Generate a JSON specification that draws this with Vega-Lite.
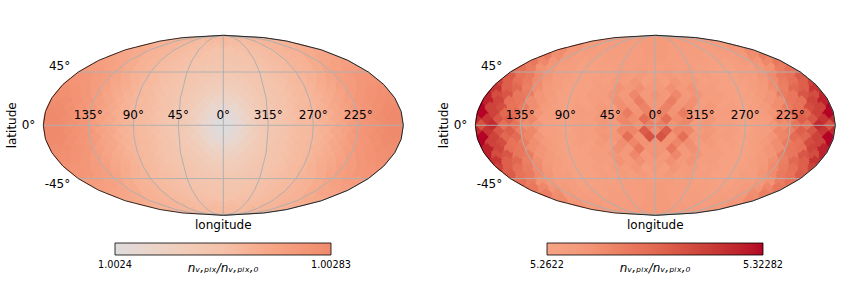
{"$schema":"https://vega.github.io/schema/vega-lite/v6.json","padding":0,"spacing":0,"background":"white","config":{"view":{"stroke":null},"font":"DejaVu Sans"},"datasets":{"pix":[
{"lon":45,"lat":84.2,"a":1.00264,"b":5.272},{"lon":-45,"lat":84.2,"a":1.00264,"b":5.272},{"lon":135,"lat":84.2,"a":1.00266,"b":5.271},{"lon":-135,"lat":84.2,"a":1.00266,"b":5.271},
{"lon":22.5,"lat":78.3,"a":1.00264,"b":5.271},{"lon":-22.5,"lat":78.3,"a":1.00264,"b":5.271},{"lon":67.5,"lat":78.3,"a":1.00264,"b":5.27},{"lon":-67.5,"lat":78.3,"a":1.00264,"b":5.27},{"lon":112.5,"lat":78.3,"a":1.00266,"b":5.27},{"lon":-112.5,"lat":78.3,"a":1.00266,"b":5.27},{"lon":157.5,"lat":78.3,"a":1.00267,"b":5.272},{"lon":-157.5,"lat":78.3,"a":1.00267,"b":5.272},
{"lon":15,"lat":72.4,"a":1.00263,"b":5.271},{"lon":-15,"lat":72.4,"a":1.00263,"b":5.271},{"lon":45,"lat":72.4,"a":1.00263,"b":5.269},{"lon":-45,"lat":72.4,"a":1.00263,"b":5.269},{"lon":75,"lat":72.4,"a":1.00264,"b":5.269},{"lon":-75,"lat":72.4,"a":1.00264,"b":5.269},{"lon":105,"lat":72.4,"a":1.00266,"b":5.269},{"lon":-105,"lat":72.4,"a":1.00266,"b":5.269},{"lon":135,"lat":72.4,"a":1.00267,"b":5.271},{"lon":-135,"lat":72.4,"a":1.00267,"b":5.271},{"lon":165,"lat":72.4,"a":1.00268,"b":5.274},{"lon":-165,"lat":72.4,"a":1.00268,"b":5.274},
{"lon":11.3,"lat":66.4,"a":1.00261,"b":5.271},{"lon":-11.3,"lat":66.4,"a":1.00261,"b":5.271},{"lon":33.8,"lat":66.4,"a":1.00262,"b":5.269},{"lon":-33.8,"lat":66.4,"a":1.00262,"b":5.269},{"lon":56.3,"lat":66.4,"a":1.00263,"b":5.268},{"lon":-56.3,"lat":66.4,"a":1.00263,"b":5.268},{"lon":78.8,"lat":66.4,"a":1.00264,"b":5.268},{"lon":-78.8,"lat":66.4,"a":1.00264,"b":5.268},{"lon":101.3,"lat":66.4,"a":1.00266,"b":5.268},{"lon":-101.3,"lat":66.4,"a":1.00266,"b":5.268},{"lon":123.8,"lat":66.4,"a":1.00267,"b":5.27},{"lon":-123.8,"lat":66.4,"a":1.00267,"b":5.27},{"lon":146.3,"lat":66.4,"a":1.00269,"b":5.273},{"lon":-146.3,"lat":66.4,"a":1.00269,"b":5.273},{"lon":168.8,"lat":66.4,"a":1.0027,"b":5.278},{"lon":-168.8,"lat":66.4,"a":1.0027,"b":5.278},
{"lon":9,"lat":60.4,"a":1.0026,"b":5.271},{"lon":-9,"lat":60.4,"a":1.0026,"b":5.271},{"lon":27,"lat":60.4,"a":1.00261,"b":5.269},{"lon":-27,"lat":60.4,"a":1.00261,"b":5.269},{"lon":45,"lat":60.4,"a":1.00262,"b":5.268},{"lon":-45,"lat":60.4,"a":1.00262,"b":5.268},{"lon":63,"lat":60.4,"a":1.00263,"b":5.268},{"lon":-63,"lat":60.4,"a":1.00263,"b":5.268},{"lon":81,"lat":60.4,"a":1.00264,"b":5.266},{"lon":-81,"lat":60.4,"a":1.00264,"b":5.266},{"lon":99,"lat":60.4,"a":1.00266,"b":5.268},{"lon":-99,"lat":60.4,"a":1.00266,"b":5.268},{"lon":117,"lat":60.4,"a":1.00267,"b":5.269},{"lon":-117,"lat":60.4,"a":1.00267,"b":5.269},{"lon":135,"lat":60.4,"a":1.00269,"b":5.272},{"lon":-135,"lat":60.4,"a":1.00269,"b":5.272},{"lon":153,"lat":60.4,"a":1.00271,"b":5.277},{"lon":-153,"lat":60.4,"a":1.00271,"b":5.277},{"lon":171,"lat":60.4,"a":1.00272,"b":5.283},{"lon":-171,"lat":60.4,"a":1.00272,"b":5.283},
{"lon":7.5,"lat":54.3,"a":1.00259,"b":5.27},{"lon":-7.5,"lat":54.3,"a":1.00259,"b":5.27},{"lon":22.5,"lat":54.3,"a":1.0026,"b":5.269},{"lon":-22.5,"lat":54.3,"a":1.0026,"b":5.269},{"lon":37.5,"lat":54.3,"a":1.00261,"b":5.269},{"lon":-37.5,"lat":54.3,"a":1.00261,"b":5.269},{"lon":52.5,"lat":54.3,"a":1.00262,"b":5.267},{"lon":-52.5,"lat":54.3,"a":1.00262,"b":5.267},{"lon":67.5,"lat":54.3,"a":1.00263,"b":5.267},{"lon":-67.5,"lat":54.3,"a":1.00263,"b":5.267},{"lon":82.5,"lat":54.3,"a":1.00264,"b":5.266},{"lon":-82.5,"lat":54.3,"a":1.00264,"b":5.266},{"lon":97.5,"lat":54.3,"a":1.00266,"b":5.266},{"lon":-97.5,"lat":54.3,"a":1.00266,"b":5.266},{"lon":112.5,"lat":54.3,"a":1.00267,"b":5.268},{"lon":-112.5,"lat":54.3,"a":1.00267,"b":5.268},{"lon":127.5,"lat":54.3,"a":1.00269,"b":5.271},{"lon":-127.5,"lat":54.3,"a":1.00269,"b":5.271},{"lon":142.5,"lat":54.3,"a":1.00271,"b":5.274},{"lon":-142.5,"lat":54.3,"a":1.00271,"b":5.274},{"lon":157.5,"lat":54.3,"a":1.00273,"b":5.279},{"lon":-157.5,"lat":54.3,"a":1.00273,"b":5.279},{"lon":172.5,"lat":54.3,"a":1.00274,"b":5.286},{"lon":-172.5,"lat":54.3,"a":1.00274,"b":5.286},
{"lon":6.4,"lat":48.1,"a":1.00258,"b":5.269},{"lon":-6.4,"lat":48.1,"a":1.00258,"b":5.269},{"lon":19.3,"lat":48.1,"a":1.00258,"b":5.27},{"lon":-19.3,"lat":48.1,"a":1.00258,"b":5.27},{"lon":32.1,"lat":48.1,"a":1.00259,"b":5.268},{"lon":-32.1,"lat":48.1,"a":1.00259,"b":5.268},{"lon":45,"lat":48.1,"a":1.0026,"b":5.269},{"lon":-45,"lat":48.1,"a":1.0026,"b":5.269},{"lon":57.9,"lat":48.1,"a":1.00262,"b":5.266},{"lon":-57.9,"lat":48.1,"a":1.00262,"b":5.266},{"lon":70.7,"lat":48.1,"a":1.00263,"b":5.266},{"lon":-70.7,"lat":48.1,"a":1.00263,"b":5.266},{"lon":83.6,"lat":48.1,"a":1.00264,"b":5.265},{"lon":-83.6,"lat":48.1,"a":1.00264,"b":5.265},{"lon":96.4,"lat":48.1,"a":1.00266,"b":5.265},{"lon":-96.4,"lat":48.1,"a":1.00266,"b":5.265},{"lon":109.3,"lat":48.1,"a":1.00267,"b":5.268},{"lon":-109.3,"lat":48.1,"a":1.00267,"b":5.268},{"lon":122.1,"lat":48.1,"a":1.00269,"b":5.268},{"lon":-122.1,"lat":48.1,"a":1.00269,"b":5.268},{"lon":135,"lat":48.1,"a":1.00272,"b":5.273},{"lon":-135,"lat":48.1,"a":1.00272,"b":5.273},{"lon":147.9,"lat":48.1,"a":1.00273,"b":5.275},{"lon":-147.9,"lat":48.1,"a":1.00273,"b":5.275},{"lon":160.7,"lat":48.1,"a":1.00275,"b":5.283},{"lon":-160.7,"lat":48.1,"a":1.00275,"b":5.283},{"lon":173.6,"lat":48.1,"a":1.00275,"b":5.289},{"lon":-173.6,"lat":48.1,"a":1.00275,"b":5.289},
{"lon":5.6,"lat":41.8,"a":1.00256,"b":5.269},{"lon":-5.6,"lat":41.8,"a":1.00256,"b":5.269},{"lon":16.9,"lat":41.8,"a":1.00257,"b":5.272},{"lon":-16.9,"lat":41.8,"a":1.00257,"b":5.272},{"lon":28.1,"lat":41.8,"a":1.00258,"b":5.268},{"lon":-28.1,"lat":41.8,"a":1.00258,"b":5.268},{"lon":39.4,"lat":41.8,"a":1.00259,"b":5.271},{"lon":-39.4,"lat":41.8,"a":1.00259,"b":5.271},{"lon":50.6,"lat":41.8,"a":1.0026,"b":5.267},{"lon":-50.6,"lat":41.8,"a":1.0026,"b":5.267},{"lon":61.9,"lat":41.8,"a":1.00262,"b":5.268},{"lon":-61.9,"lat":41.8,"a":1.00262,"b":5.268},{"lon":73.1,"lat":41.8,"a":1.00263,"b":5.265},{"lon":-73.1,"lat":41.8,"a":1.00263,"b":5.265},{"lon":84.4,"lat":41.8,"a":1.00264,"b":5.265},{"lon":-84.4,"lat":41.8,"a":1.00264,"b":5.265},{"lon":95.6,"lat":41.8,"a":1.00266,"b":5.265},{"lon":-95.6,"lat":41.8,"a":1.00266,"b":5.265},{"lon":106.9,"lat":41.8,"a":1.00267,"b":5.268},{"lon":-106.9,"lat":41.8,"a":1.00267,"b":5.268},{"lon":118.1,"lat":41.8,"a":1.00269,"b":5.269},{"lon":-118.1,"lat":41.8,"a":1.00269,"b":5.269},{"lon":129.4,"lat":41.8,"a":1.00272,"b":5.274},{"lon":-129.4,"lat":41.8,"a":1.00272,"b":5.274},{"lon":140.6,"lat":41.8,"a":1.00274,"b":5.278},{"lon":-140.6,"lat":41.8,"a":1.00274,"b":5.278},{"lon":151.9,"lat":41.8,"a":1.00275,"b":5.285},{"lon":-151.9,"lat":41.8,"a":1.00275,"b":5.285},{"lon":163.1,"lat":41.8,"a":1.00277,"b":5.288},{"lon":-163.1,"lat":41.8,"a":1.00277,"b":5.288},{"lon":174.4,"lat":41.8,"a":1.00278,"b":5.297},{"lon":-174.4,"lat":41.8,"a":1.00278,"b":5.297},
{"lon":0,"lat":35.7,"a":1.00255,"b":5.272},{"lon":11.3,"lat":35.7,"a":1.00255,"b":5.267},{"lon":-11.3,"lat":35.7,"a":1.00255,"b":5.267},{"lon":22.5,"lat":35.7,"a":1.00256,"b":5.274},{"lon":-22.5,"lat":35.7,"a":1.00256,"b":5.274},{"lon":33.8,"lat":35.7,"a":1.00258,"b":5.27},{"lon":-33.8,"lat":35.7,"a":1.00258,"b":5.27},{"lon":45,"lat":35.7,"a":1.00259,"b":5.271},{"lon":-45,"lat":35.7,"a":1.00259,"b":5.271},{"lon":56.3,"lat":35.7,"a":1.00261,"b":5.266},{"lon":-56.3,"lat":35.7,"a":1.00261,"b":5.266},{"lon":67.5,"lat":35.7,"a":1.00262,"b":5.267},{"lon":-67.5,"lat":35.7,"a":1.00262,"b":5.267},{"lon":78.8,"lat":35.7,"a":1.00264,"b":5.264},{"lon":-78.8,"lat":35.7,"a":1.00264,"b":5.264},{"lon":90,"lat":35.7,"a":1.00265,"b":5.265},{"lon":-90,"lat":35.7,"a":1.00265,"b":5.265},{"lon":101.3,"lat":35.7,"a":1.00267,"b":5.266},{"lon":-101.3,"lat":35.7,"a":1.00267,"b":5.266},{"lon":112.5,"lat":35.7,"a":1.00269,"b":5.269},{"lon":-112.5,"lat":35.7,"a":1.00269,"b":5.269},{"lon":123.8,"lat":35.7,"a":1.00271,"b":5.273},{"lon":-123.8,"lat":35.7,"a":1.00271,"b":5.273},{"lon":135,"lat":35.7,"a":1.00274,"b":5.278},{"lon":-135,"lat":35.7,"a":1.00274,"b":5.278},{"lon":146.3,"lat":35.7,"a":1.00275,"b":5.284},{"lon":-146.3,"lat":35.7,"a":1.00275,"b":5.284},{"lon":157.5,"lat":35.7,"a":1.00277,"b":5.289},{"lon":-157.5,"lat":35.7,"a":1.00277,"b":5.289},{"lon":168.8,"lat":35.7,"a":1.00278,"b":5.296},{"lon":-168.8,"lat":35.7,"a":1.00278,"b":5.296},{"lon":180,"lat":35.7,"a":1.00279,"b":5.306},{"lon":-180,"lat":35.7,"a":1.00279,"b":5.306},
{"lon":5.6,"lat":30,"a":1.00253,"b":5.272},{"lon":-5.6,"lat":30,"a":1.00253,"b":5.272},{"lon":16.9,"lat":30,"a":1.00254,"b":5.276},{"lon":-16.9,"lat":30,"a":1.00254,"b":5.276},{"lon":28.1,"lat":30,"a":1.00256,"b":5.272},{"lon":-28.1,"lat":30,"a":1.00256,"b":5.272},{"lon":39.4,"lat":30,"a":1.00258,"b":5.275},{"lon":-39.4,"lat":30,"a":1.00258,"b":5.275},{"lon":50.6,"lat":30,"a":1.00259,"b":5.268},{"lon":-50.6,"lat":30,"a":1.00259,"b":5.268},{"lon":61.9,"lat":30,"a":1.00261,"b":5.268},{"lon":-61.9,"lat":30,"a":1.00261,"b":5.268},{"lon":73.1,"lat":30,"a":1.00263,"b":5.265},{"lon":-73.1,"lat":30,"a":1.00263,"b":5.265},{"lon":84.4,"lat":30,"a":1.00264,"b":5.265},{"lon":-84.4,"lat":30,"a":1.00264,"b":5.265},{"lon":95.6,"lat":30,"a":1.00266,"b":5.264},{"lon":-95.6,"lat":30,"a":1.00266,"b":5.264},{"lon":106.9,"lat":30,"a":1.00268,"b":5.268},{"lon":-106.9,"lat":30,"a":1.00268,"b":5.268},{"lon":118.1,"lat":30,"a":1.0027,"b":5.271},{"lon":-118.1,"lat":30,"a":1.0027,"b":5.271},{"lon":129.4,"lat":30,"a":1.00273,"b":5.277},{"lon":-129.4,"lat":30,"a":1.00273,"b":5.277},{"lon":140.6,"lat":30,"a":1.00275,"b":5.282},{"lon":-140.6,"lat":30,"a":1.00275,"b":5.282},{"lon":151.9,"lat":30,"a":1.00277,"b":5.293},{"lon":-151.9,"lat":30,"a":1.00277,"b":5.293},{"lon":163.1,"lat":30,"a":1.00279,"b":5.296},{"lon":-163.1,"lat":30,"a":1.00279,"b":5.296},{"lon":174.4,"lat":30,"a":1.0028,"b":5.311},{"lon":-174.4,"lat":30,"a":1.0028,"b":5.311},
{"lon":0,"lat":24.6,"a":1.0025,"b":5.275},{"lon":11.3,"lat":24.6,"a":1.00251,"b":5.272},{"lon":-11.3,"lat":24.6,"a":1.00251,"b":5.272},{"lon":22.5,"lat":24.6,"a":1.00254,"b":5.279},{"lon":-22.5,"lat":24.6,"a":1.00254,"b":5.279},{"lon":33.8,"lat":24.6,"a":1.00256,"b":5.272},{"lon":-33.8,"lat":24.6,"a":1.00256,"b":5.272},{"lon":45,"lat":24.6,"a":1.00258,"b":5.274},{"lon":-45,"lat":24.6,"a":1.00258,"b":5.274},{"lon":56.3,"lat":24.6,"a":1.0026,"b":5.268},{"lon":-56.3,"lat":24.6,"a":1.0026,"b":5.268},{"lon":67.5,"lat":24.6,"a":1.00262,"b":5.268},{"lon":-67.5,"lat":24.6,"a":1.00262,"b":5.268},{"lon":78.8,"lat":24.6,"a":1.00264,"b":5.264},{"lon":-78.8,"lat":24.6,"a":1.00264,"b":5.264},{"lon":90,"lat":24.6,"a":1.00265,"b":5.264},{"lon":-90,"lat":24.6,"a":1.00265,"b":5.264},{"lon":101.3,"lat":24.6,"a":1.00267,"b":5.266},{"lon":-101.3,"lat":24.6,"a":1.00267,"b":5.266},{"lon":112.5,"lat":24.6,"a":1.00269,"b":5.271},{"lon":-112.5,"lat":24.6,"a":1.00269,"b":5.271},{"lon":123.8,"lat":24.6,"a":1.00272,"b":5.274},{"lon":-123.8,"lat":24.6,"a":1.00272,"b":5.274},{"lon":135,"lat":24.6,"a":1.00275,"b":5.284},{"lon":-135,"lat":24.6,"a":1.00275,"b":5.284},{"lon":146.3,"lat":24.6,"a":1.00277,"b":5.286},{"lon":-146.3,"lat":24.6,"a":1.00277,"b":5.286},{"lon":157.5,"lat":24.6,"a":1.00279,"b":5.299},{"lon":-157.5,"lat":24.6,"a":1.00279,"b":5.299},{"lon":168.8,"lat":24.6,"a":1.0028,"b":5.302},{"lon":-168.8,"lat":24.6,"a":1.0028,"b":5.302},{"lon":180,"lat":24.6,"a":1.00281,"b":5.317},{"lon":-180,"lat":24.6,"a":1.00281,"b":5.317},
{"lon":5.6,"lat":19.5,"a":1.00248,"b":5.273},{"lon":-5.6,"lat":19.5,"a":1.00248,"b":5.273},{"lon":16.9,"lat":19.5,"a":1.0025,"b":5.283},{"lon":-16.9,"lat":19.5,"a":1.0025,"b":5.283},{"lon":28.1,"lat":19.5,"a":1.00254,"b":5.273},{"lon":-28.1,"lat":19.5,"a":1.00254,"b":5.273},{"lon":39.4,"lat":19.5,"a":1.00257,"b":5.276},{"lon":-39.4,"lat":19.5,"a":1.00257,"b":5.276},{"lon":50.6,"lat":19.5,"a":1.00259,"b":5.269},{"lon":-50.6,"lat":19.5,"a":1.00259,"b":5.269},{"lon":61.9,"lat":19.5,"a":1.00261,"b":5.269},{"lon":-61.9,"lat":19.5,"a":1.00261,"b":5.269},{"lon":73.1,"lat":19.5,"a":1.00263,"b":5.265},{"lon":-73.1,"lat":19.5,"a":1.00263,"b":5.265},{"lon":84.4,"lat":19.5,"a":1.00264,"b":5.265},{"lon":-84.4,"lat":19.5,"a":1.00264,"b":5.265},{"lon":95.6,"lat":19.5,"a":1.00266,"b":5.264},{"lon":-95.6,"lat":19.5,"a":1.00266,"b":5.264},{"lon":106.9,"lat":19.5,"a":1.00268,"b":5.268},{"lon":-106.9,"lat":19.5,"a":1.00268,"b":5.268},{"lon":118.1,"lat":19.5,"a":1.00271,"b":5.274},{"lon":-118.1,"lat":19.5,"a":1.00271,"b":5.274},{"lon":129.4,"lat":19.5,"a":1.00274,"b":5.277},{"lon":-129.4,"lat":19.5,"a":1.00274,"b":5.277},{"lon":140.6,"lat":19.5,"a":1.00277,"b":5.286},{"lon":-140.6,"lat":19.5,"a":1.00277,"b":5.286},{"lon":151.9,"lat":19.5,"a":1.00279,"b":5.289},{"lon":-151.9,"lat":19.5,"a":1.00279,"b":5.289},{"lon":163.1,"lat":19.5,"a":1.00281,"b":5.305},{"lon":-163.1,"lat":19.5,"a":1.00281,"b":5.305},{"lon":174.4,"lat":19.5,"a":1.00281,"b":5.317},{"lon":-174.4,"lat":19.5,"a":1.00281,"b":5.317},
{"lon":0,"lat":14.5,"a":1.00244,"b":5.273},{"lon":11.3,"lat":14.5,"a":1.00246,"b":5.281},{"lon":-11.3,"lat":14.5,"a":1.00246,"b":5.281},{"lon":22.5,"lat":14.5,"a":1.00251,"b":5.274},{"lon":-22.5,"lat":14.5,"a":1.00251,"b":5.274},{"lon":33.8,"lat":14.5,"a":1.00255,"b":5.277},{"lon":-33.8,"lat":14.5,"a":1.00255,"b":5.277},{"lon":45,"lat":14.5,"a":1.00257,"b":5.27},{"lon":-45,"lat":14.5,"a":1.00257,"b":5.27},{"lon":56.3,"lat":14.5,"a":1.0026,"b":5.272},{"lon":-56.3,"lat":14.5,"a":1.0026,"b":5.272},{"lon":67.5,"lat":14.5,"a":1.00262,"b":5.266},{"lon":-67.5,"lat":14.5,"a":1.00262,"b":5.266},{"lon":78.8,"lat":14.5,"a":1.00264,"b":5.267},{"lon":-78.8,"lat":14.5,"a":1.00264,"b":5.267},{"lon":90,"lat":14.5,"a":1.00265,"b":5.263},{"lon":-90,"lat":14.5,"a":1.00265,"b":5.263},{"lon":101.3,"lat":14.5,"a":1.00267,"b":5.267},{"lon":-101.3,"lat":14.5,"a":1.00267,"b":5.267},{"lon":112.5,"lat":14.5,"a":1.0027,"b":5.271},{"lon":-112.5,"lat":14.5,"a":1.0027,"b":5.271},{"lon":123.8,"lat":14.5,"a":1.00273,"b":5.277},{"lon":-123.8,"lat":14.5,"a":1.00273,"b":5.277},{"lon":135,"lat":14.5,"a":1.00276,"b":5.284},{"lon":-135,"lat":14.5,"a":1.00276,"b":5.284},{"lon":146.3,"lat":14.5,"a":1.00278,"b":5.288},{"lon":-146.3,"lat":14.5,"a":1.00278,"b":5.288},{"lon":157.5,"lat":14.5,"a":1.0028,"b":5.302},{"lon":-157.5,"lat":14.5,"a":1.0028,"b":5.302},{"lon":168.8,"lat":14.5,"a":1.00282,"b":5.306},{"lon":-168.8,"lat":14.5,"a":1.00282,"b":5.306},{"lon":180,"lat":14.5,"a":1.00282,"b":5.323},{"lon":-180,"lat":14.5,"a":1.00282,"b":5.323},
{"lon":5.6,"lat":9.6,"a":1.00243,"b":5.281},{"lon":-5.6,"lat":9.6,"a":1.00243,"b":5.281},{"lon":16.9,"lat":9.6,"a":1.00247,"b":5.275},{"lon":-16.9,"lat":9.6,"a":1.00247,"b":5.275},{"lon":28.1,"lat":9.6,"a":1.00252,"b":5.284},{"lon":-28.1,"lat":9.6,"a":1.00252,"b":5.284},{"lon":39.4,"lat":9.6,"a":1.00256,"b":5.272},{"lon":-39.4,"lat":9.6,"a":1.00256,"b":5.272},{"lon":50.6,"lat":9.6,"a":1.00258,"b":5.274},{"lon":-50.6,"lat":9.6,"a":1.00258,"b":5.274},{"lon":61.9,"lat":9.6,"a":1.00261,"b":5.268},{"lon":-61.9,"lat":9.6,"a":1.00261,"b":5.268},{"lon":73.1,"lat":9.6,"a":1.00263,"b":5.269},{"lon":-73.1,"lat":9.6,"a":1.00263,"b":5.269},{"lon":84.4,"lat":9.6,"a":1.00264,"b":5.264},{"lon":-84.4,"lat":9.6,"a":1.00264,"b":5.264},{"lon":95.6,"lat":9.6,"a":1.00266,"b":5.266},{"lon":-95.6,"lat":9.6,"a":1.00266,"b":5.266},{"lon":106.9,"lat":9.6,"a":1.00268,"b":5.268},{"lon":-106.9,"lat":9.6,"a":1.00268,"b":5.268},{"lon":118.1,"lat":9.6,"a":1.00271,"b":5.274},{"lon":-118.1,"lat":9.6,"a":1.00271,"b":5.274},{"lon":129.4,"lat":9.6,"a":1.00275,"b":5.28},{"lon":-129.4,"lat":9.6,"a":1.00275,"b":5.28},{"lon":140.6,"lat":9.6,"a":1.00278,"b":5.291},{"lon":-140.6,"lat":9.6,"a":1.00278,"b":5.291},{"lon":151.9,"lat":9.6,"a":1.0028,"b":5.293},{"lon":-151.9,"lat":9.6,"a":1.0028,"b":5.293},{"lon":163.1,"lat":9.6,"a":1.00282,"b":5.306},{"lon":-163.1,"lat":9.6,"a":1.00282,"b":5.306},{"lon":174.4,"lat":9.6,"a":1.00283,"b":5.323},{"lon":-174.4,"lat":9.6,"a":1.00283,"b":5.323},
{"lon":0,"lat":4.8,"a":1.0024,"b":5.277},{"lon":11.3,"lat":4.8,"a":1.00243,"b":5.29},{"lon":-11.3,"lat":4.8,"a":1.00243,"b":5.29},{"lon":22.5,"lat":4.8,"a":1.00249,"b":5.277},{"lon":-22.5,"lat":4.8,"a":1.00249,"b":5.277},{"lon":33.8,"lat":4.8,"a":1.00254,"b":5.279},{"lon":-33.8,"lat":4.8,"a":1.00254,"b":5.279},{"lon":45,"lat":4.8,"a":1.00257,"b":5.271},{"lon":-45,"lat":4.8,"a":1.00257,"b":5.271},{"lon":56.3,"lat":4.8,"a":1.00259,"b":5.273},{"lon":-56.3,"lat":4.8,"a":1.00259,"b":5.273},{"lon":67.5,"lat":4.8,"a":1.00262,"b":5.267},{"lon":-67.5,"lat":4.8,"a":1.00262,"b":5.267},{"lon":78.8,"lat":4.8,"a":1.00264,"b":5.267},{"lon":-78.8,"lat":4.8,"a":1.00264,"b":5.267},{"lon":90,"lat":4.8,"a":1.00265,"b":5.263},{"lon":-90,"lat":4.8,"a":1.00265,"b":5.263},{"lon":101.3,"lat":4.8,"a":1.00267,"b":5.267},{"lon":-101.3,"lat":4.8,"a":1.00267,"b":5.267},{"lon":112.5,"lat":4.8,"a":1.0027,"b":5.269},{"lon":-112.5,"lat":4.8,"a":1.0027,"b":5.269},{"lon":123.8,"lat":4.8,"a":1.00273,"b":5.279},{"lon":-123.8,"lat":4.8,"a":1.00273,"b":5.279},{"lon":135,"lat":4.8,"a":1.00277,"b":5.282},{"lon":-135,"lat":4.8,"a":1.00277,"b":5.282},{"lon":146.3,"lat":4.8,"a":1.00279,"b":5.296},{"lon":-146.3,"lat":4.8,"a":1.00279,"b":5.296},{"lon":157.5,"lat":4.8,"a":1.00281,"b":5.299},{"lon":-157.5,"lat":4.8,"a":1.00281,"b":5.299},{"lon":168.8,"lat":4.8,"a":1.00283,"b":5.311},{"lon":-168.8,"lat":4.8,"a":1.00283,"b":5.311},{"lon":180,"lat":4.8,"a":1.00283,"b":5.314},{"lon":-180,"lat":4.8,"a":1.00283,"b":5.314},
{"lon":5.6,"lat":0,"a":1.0024,"b":5.282},{"lon":-5.6,"lat":0,"a":1.0024,"b":5.282},{"lon":16.9,"lat":0,"a":1.00245,"b":5.275},{"lon":-16.9,"lat":0,"a":1.00245,"b":5.275},{"lon":28.1,"lat":0,"a":1.00251,"b":5.28},{"lon":-28.1,"lat":0,"a":1.00251,"b":5.28},{"lon":39.4,"lat":0,"a":1.00256,"b":5.271},{"lon":-39.4,"lat":0,"a":1.00256,"b":5.271},{"lon":50.6,"lat":0,"a":1.00258,"b":5.274},{"lon":-50.6,"lat":0,"a":1.00258,"b":5.274},{"lon":61.9,"lat":0,"a":1.0026,"b":5.268},{"lon":-61.9,"lat":0,"a":1.0026,"b":5.268},{"lon":73.1,"lat":0,"a":1.00263,"b":5.268},{"lon":-73.1,"lat":0,"a":1.00263,"b":5.268},{"lon":84.4,"lat":0,"a":1.00264,"b":5.264},{"lon":-84.4,"lat":0,"a":1.00264,"b":5.264},{"lon":95.6,"lat":0,"a":1.00266,"b":5.265},{"lon":-95.6,"lat":0,"a":1.00266,"b":5.265},{"lon":106.9,"lat":0,"a":1.00268,"b":5.267},{"lon":-106.9,"lat":0,"a":1.00268,"b":5.267},{"lon":118.1,"lat":0,"a":1.00271,"b":5.274},{"lon":-118.1,"lat":0,"a":1.00271,"b":5.274},{"lon":129.4,"lat":0,"a":1.00275,"b":5.277},{"lon":-129.4,"lat":0,"a":1.00275,"b":5.277},{"lon":140.6,"lat":0,"a":1.00278,"b":5.288},{"lon":-140.6,"lat":0,"a":1.00278,"b":5.288},{"lon":151.9,"lat":0,"a":1.0028,"b":5.289},{"lon":-151.9,"lat":0,"a":1.0028,"b":5.289},{"lon":163.1,"lat":0,"a":1.00282,"b":5.314},{"lon":-163.1,"lat":0,"a":1.00282,"b":5.314},{"lon":174.4,"lat":0,"a":1.00283,"b":5.3},{"lon":-174.4,"lat":0,"a":1.00283,"b":5.3},
{"lon":0,"lat":-4.8,"a":1.0024,"b":5.277},{"lon":11.3,"lat":-4.8,"a":1.00243,"b":5.297},{"lon":-11.3,"lat":-4.8,"a":1.00243,"b":5.297},{"lon":22.5,"lat":-4.8,"a":1.00249,"b":5.28},{"lon":-22.5,"lat":-4.8,"a":1.00249,"b":5.28},{"lon":33.8,"lat":-4.8,"a":1.00254,"b":5.279},{"lon":-33.8,"lat":-4.8,"a":1.00254,"b":5.279},{"lon":45,"lat":-4.8,"a":1.00257,"b":5.271},{"lon":-45,"lat":-4.8,"a":1.00257,"b":5.271},{"lon":56.3,"lat":-4.8,"a":1.00259,"b":5.273},{"lon":-56.3,"lat":-4.8,"a":1.00259,"b":5.273},{"lon":67.5,"lat":-4.8,"a":1.00262,"b":5.267},{"lon":-67.5,"lat":-4.8,"a":1.00262,"b":5.267},{"lon":78.8,"lat":-4.8,"a":1.00264,"b":5.267},{"lon":-78.8,"lat":-4.8,"a":1.00264,"b":5.267},{"lon":90,"lat":-4.8,"a":1.00265,"b":5.263},{"lon":-90,"lat":-4.8,"a":1.00265,"b":5.263},{"lon":101.3,"lat":-4.8,"a":1.00267,"b":5.267},{"lon":-101.3,"lat":-4.8,"a":1.00267,"b":5.267},{"lon":112.5,"lat":-4.8,"a":1.0027,"b":5.269},{"lon":-112.5,"lat":-4.8,"a":1.0027,"b":5.269},{"lon":123.8,"lat":-4.8,"a":1.00273,"b":5.279},{"lon":-123.8,"lat":-4.8,"a":1.00273,"b":5.279},{"lon":135,"lat":-4.8,"a":1.00277,"b":5.282},{"lon":-135,"lat":-4.8,"a":1.00277,"b":5.282},{"lon":146.3,"lat":-4.8,"a":1.00279,"b":5.296},{"lon":-146.3,"lat":-4.8,"a":1.00279,"b":5.296},{"lon":157.5,"lat":-4.8,"a":1.00281,"b":5.299},{"lon":-157.5,"lat":-4.8,"a":1.00281,"b":5.299},{"lon":168.8,"lat":-4.8,"a":1.00283,"b":5.311},{"lon":-168.8,"lat":-4.8,"a":1.00283,"b":5.311},{"lon":180,"lat":-4.8,"a":1.00283,"b":5.314},{"lon":-180,"lat":-4.8,"a":1.00283,"b":5.314},
{"lon":5.6,"lat":-9.6,"a":1.00243,"b":5.3},{"lon":-5.6,"lat":-9.6,"a":1.00243,"b":5.3},{"lon":16.9,"lat":-9.6,"a":1.00247,"b":5.275},{"lon":-16.9,"lat":-9.6,"a":1.00247,"b":5.275},{"lon":28.1,"lat":-9.6,"a":1.00252,"b":5.29},{"lon":-28.1,"lat":-9.6,"a":1.00252,"b":5.29},{"lon":39.4,"lat":-9.6,"a":1.00256,"b":5.273},{"lon":-39.4,"lat":-9.6,"a":1.00256,"b":5.273},{"lon":50.6,"lat":-9.6,"a":1.00258,"b":5.274},{"lon":-50.6,"lat":-9.6,"a":1.00258,"b":5.274},{"lon":61.9,"lat":-9.6,"a":1.00261,"b":5.268},{"lon":-61.9,"lat":-9.6,"a":1.00261,"b":5.268},{"lon":73.1,"lat":-9.6,"a":1.00263,"b":5.269},{"lon":-73.1,"lat":-9.6,"a":1.00263,"b":5.269},{"lon":84.4,"lat":-9.6,"a":1.00264,"b":5.264},{"lon":-84.4,"lat":-9.6,"a":1.00264,"b":5.264},{"lon":95.6,"lat":-9.6,"a":1.00266,"b":5.266},{"lon":-95.6,"lat":-9.6,"a":1.00266,"b":5.266},{"lon":106.9,"lat":-9.6,"a":1.00268,"b":5.268},{"lon":-106.9,"lat":-9.6,"a":1.00268,"b":5.268},{"lon":118.1,"lat":-9.6,"a":1.00271,"b":5.274},{"lon":-118.1,"lat":-9.6,"a":1.00271,"b":5.274},{"lon":129.4,"lat":-9.6,"a":1.00275,"b":5.28},{"lon":-129.4,"lat":-9.6,"a":1.00275,"b":5.28},{"lon":140.6,"lat":-9.6,"a":1.00278,"b":5.291},{"lon":-140.6,"lat":-9.6,"a":1.00278,"b":5.291},{"lon":151.9,"lat":-9.6,"a":1.0028,"b":5.293},{"lon":-151.9,"lat":-9.6,"a":1.0028,"b":5.293},{"lon":163.1,"lat":-9.6,"a":1.00282,"b":5.306},{"lon":-163.1,"lat":-9.6,"a":1.00282,"b":5.306},{"lon":174.4,"lat":-9.6,"a":1.00283,"b":5.323},{"lon":-174.4,"lat":-9.6,"a":1.00283,"b":5.323},
{"lon":0,"lat":-14.5,"a":1.00244,"b":5.275},{"lon":11.3,"lat":-14.5,"a":1.00246,"b":5.275},{"lon":-11.3,"lat":-14.5,"a":1.00246,"b":5.275},{"lon":22.5,"lat":-14.5,"a":1.00251,"b":5.28},{"lon":-22.5,"lat":-14.5,"a":1.00251,"b":5.28},{"lon":33.8,"lat":-14.5,"a":1.00255,"b":5.277},{"lon":-33.8,"lat":-14.5,"a":1.00255,"b":5.277},{"lon":45,"lat":-14.5,"a":1.00257,"b":5.27},{"lon":-45,"lat":-14.5,"a":1.00257,"b":5.27},{"lon":56.3,"lat":-14.5,"a":1.0026,"b":5.272},{"lon":-56.3,"lat":-14.5,"a":1.0026,"b":5.272},{"lon":67.5,"lat":-14.5,"a":1.00262,"b":5.266},{"lon":-67.5,"lat":-14.5,"a":1.00262,"b":5.266},{"lon":78.8,"lat":-14.5,"a":1.00264,"b":5.267},{"lon":-78.8,"lat":-14.5,"a":1.00264,"b":5.267},{"lon":90,"lat":-14.5,"a":1.00265,"b":5.263},{"lon":-90,"lat":-14.5,"a":1.00265,"b":5.263},{"lon":101.3,"lat":-14.5,"a":1.00267,"b":5.267},{"lon":-101.3,"lat":-14.5,"a":1.00267,"b":5.267},{"lon":112.5,"lat":-14.5,"a":1.0027,"b":5.271},{"lon":-112.5,"lat":-14.5,"a":1.0027,"b":5.271},{"lon":123.8,"lat":-14.5,"a":1.00273,"b":5.277},{"lon":-123.8,"lat":-14.5,"a":1.00273,"b":5.277},{"lon":135,"lat":-14.5,"a":1.00276,"b":5.284},{"lon":-135,"lat":-14.5,"a":1.00276,"b":5.284},{"lon":146.3,"lat":-14.5,"a":1.00278,"b":5.288},{"lon":-146.3,"lat":-14.5,"a":1.00278,"b":5.288},{"lon":157.5,"lat":-14.5,"a":1.0028,"b":5.302},{"lon":-157.5,"lat":-14.5,"a":1.0028,"b":5.302},{"lon":168.8,"lat":-14.5,"a":1.00282,"b":5.306},{"lon":-168.8,"lat":-14.5,"a":1.00282,"b":5.306},{"lon":180,"lat":-14.5,"a":1.00282,"b":5.323},{"lon":-180,"lat":-14.5,"a":1.00282,"b":5.323},
{"lon":5.6,"lat":-19.5,"a":1.00248,"b":5.274},{"lon":-5.6,"lat":-19.5,"a":1.00248,"b":5.274},{"lon":16.9,"lat":-19.5,"a":1.0025,"b":5.286},{"lon":-16.9,"lat":-19.5,"a":1.0025,"b":5.286},{"lon":28.1,"lat":-19.5,"a":1.00254,"b":5.273},{"lon":-28.1,"lat":-19.5,"a":1.00254,"b":5.273},{"lon":39.4,"lat":-19.5,"a":1.00257,"b":5.276},{"lon":-39.4,"lat":-19.5,"a":1.00257,"b":5.276},{"lon":50.6,"lat":-19.5,"a":1.00259,"b":5.269},{"lon":-50.6,"lat":-19.5,"a":1.00259,"b":5.269},{"lon":61.9,"lat":-19.5,"a":1.00261,"b":5.269},{"lon":-61.9,"lat":-19.5,"a":1.00261,"b":5.269},{"lon":73.1,"lat":-19.5,"a":1.00263,"b":5.265},{"lon":-73.1,"lat":-19.5,"a":1.00263,"b":5.265},{"lon":84.4,"lat":-19.5,"a":1.00264,"b":5.265},{"lon":-84.4,"lat":-19.5,"a":1.00264,"b":5.265},{"lon":95.6,"lat":-19.5,"a":1.00266,"b":5.264},{"lon":-95.6,"lat":-19.5,"a":1.00266,"b":5.264},{"lon":106.9,"lat":-19.5,"a":1.00268,"b":5.268},{"lon":-106.9,"lat":-19.5,"a":1.00268,"b":5.268},{"lon":118.1,"lat":-19.5,"a":1.00271,"b":5.274},{"lon":-118.1,"lat":-19.5,"a":1.00271,"b":5.274},{"lon":129.4,"lat":-19.5,"a":1.00274,"b":5.277},{"lon":-129.4,"lat":-19.5,"a":1.00274,"b":5.277},{"lon":140.6,"lat":-19.5,"a":1.00277,"b":5.286},{"lon":-140.6,"lat":-19.5,"a":1.00277,"b":5.286},{"lon":151.9,"lat":-19.5,"a":1.00279,"b":5.289},{"lon":-151.9,"lat":-19.5,"a":1.00279,"b":5.289},{"lon":163.1,"lat":-19.5,"a":1.00281,"b":5.305},{"lon":-163.1,"lat":-19.5,"a":1.00281,"b":5.305},{"lon":174.4,"lat":-19.5,"a":1.00281,"b":5.317},{"lon":-174.4,"lat":-19.5,"a":1.00281,"b":5.317},
{"lon":0,"lat":-24.6,"a":1.0025,"b":5.275},{"lon":11.3,"lat":-24.6,"a":1.00251,"b":5.272},{"lon":-11.3,"lat":-24.6,"a":1.00251,"b":5.272},{"lon":22.5,"lat":-24.6,"a":1.00254,"b":5.279},{"lon":-22.5,"lat":-24.6,"a":1.00254,"b":5.279},{"lon":33.8,"lat":-24.6,"a":1.00256,"b":5.272},{"lon":-33.8,"lat":-24.6,"a":1.00256,"b":5.272},{"lon":45,"lat":-24.6,"a":1.00258,"b":5.274},{"lon":-45,"lat":-24.6,"a":1.00258,"b":5.274},{"lon":56.3,"lat":-24.6,"a":1.0026,"b":5.268},{"lon":-56.3,"lat":-24.6,"a":1.0026,"b":5.268},{"lon":67.5,"lat":-24.6,"a":1.00262,"b":5.268},{"lon":-67.5,"lat":-24.6,"a":1.00262,"b":5.268},{"lon":78.8,"lat":-24.6,"a":1.00264,"b":5.264},{"lon":-78.8,"lat":-24.6,"a":1.00264,"b":5.264},{"lon":90,"lat":-24.6,"a":1.00265,"b":5.264},{"lon":-90,"lat":-24.6,"a":1.00265,"b":5.264},{"lon":101.3,"lat":-24.6,"a":1.00267,"b":5.266},{"lon":-101.3,"lat":-24.6,"a":1.00267,"b":5.266},{"lon":112.5,"lat":-24.6,"a":1.00269,"b":5.271},{"lon":-112.5,"lat":-24.6,"a":1.00269,"b":5.271},{"lon":123.8,"lat":-24.6,"a":1.00272,"b":5.274},{"lon":-123.8,"lat":-24.6,"a":1.00272,"b":5.274},{"lon":135,"lat":-24.6,"a":1.00275,"b":5.284},{"lon":-135,"lat":-24.6,"a":1.00275,"b":5.284},{"lon":146.3,"lat":-24.6,"a":1.00277,"b":5.286},{"lon":-146.3,"lat":-24.6,"a":1.00277,"b":5.286},{"lon":157.5,"lat":-24.6,"a":1.00279,"b":5.299},{"lon":-157.5,"lat":-24.6,"a":1.00279,"b":5.299},{"lon":168.8,"lat":-24.6,"a":1.0028,"b":5.302},{"lon":-168.8,"lat":-24.6,"a":1.0028,"b":5.302},{"lon":180,"lat":-24.6,"a":1.00281,"b":5.317},{"lon":-180,"lat":-24.6,"a":1.00281,"b":5.317},
{"lon":5.6,"lat":-30,"a":1.00253,"b":5.272},{"lon":-5.6,"lat":-30,"a":1.00253,"b":5.272},{"lon":16.9,"lat":-30,"a":1.00254,"b":5.276},{"lon":-16.9,"lat":-30,"a":1.00254,"b":5.276},{"lon":28.1,"lat":-30,"a":1.00256,"b":5.272},{"lon":-28.1,"lat":-30,"a":1.00256,"b":5.272},{"lon":39.4,"lat":-30,"a":1.00258,"b":5.275},{"lon":-39.4,"lat":-30,"a":1.00258,"b":5.275},{"lon":50.6,"lat":-30,"a":1.00259,"b":5.268},{"lon":-50.6,"lat":-30,"a":1.00259,"b":5.268},{"lon":61.9,"lat":-30,"a":1.00261,"b":5.268},{"lon":-61.9,"lat":-30,"a":1.00261,"b":5.268},{"lon":73.1,"lat":-30,"a":1.00263,"b":5.265},{"lon":-73.1,"lat":-30,"a":1.00263,"b":5.265},{"lon":84.4,"lat":-30,"a":1.00264,"b":5.265},{"lon":-84.4,"lat":-30,"a":1.00264,"b":5.265},{"lon":95.6,"lat":-30,"a":1.00266,"b":5.264},{"lon":-95.6,"lat":-30,"a":1.00266,"b":5.264},{"lon":106.9,"lat":-30,"a":1.00268,"b":5.268},{"lon":-106.9,"lat":-30,"a":1.00268,"b":5.268},{"lon":118.1,"lat":-30,"a":1.0027,"b":5.271},{"lon":-118.1,"lat":-30,"a":1.0027,"b":5.271},{"lon":129.4,"lat":-30,"a":1.00273,"b":5.277},{"lon":-129.4,"lat":-30,"a":1.00273,"b":5.277},{"lon":140.6,"lat":-30,"a":1.00275,"b":5.282},{"lon":-140.6,"lat":-30,"a":1.00275,"b":5.282},{"lon":151.9,"lat":-30,"a":1.00277,"b":5.293},{"lon":-151.9,"lat":-30,"a":1.00277,"b":5.293},{"lon":163.1,"lat":-30,"a":1.00279,"b":5.296},{"lon":-163.1,"lat":-30,"a":1.00279,"b":5.296},{"lon":174.4,"lat":-30,"a":1.0028,"b":5.311},{"lon":-174.4,"lat":-30,"a":1.0028,"b":5.311},
{"lon":0,"lat":-35.7,"a":1.00255,"b":5.272},{"lon":11.3,"lat":-35.7,"a":1.00255,"b":5.267},{"lon":-11.3,"lat":-35.7,"a":1.00255,"b":5.267},{"lon":22.5,"lat":-35.7,"a":1.00256,"b":5.274},{"lon":-22.5,"lat":-35.7,"a":1.00256,"b":5.274},{"lon":33.8,"lat":-35.7,"a":1.00258,"b":5.27},{"lon":-33.8,"lat":-35.7,"a":1.00258,"b":5.27},{"lon":45,"lat":-35.7,"a":1.00259,"b":5.271},{"lon":-45,"lat":-35.7,"a":1.00259,"b":5.271},{"lon":56.3,"lat":-35.7,"a":1.00261,"b":5.266},{"lon":-56.3,"lat":-35.7,"a":1.00261,"b":5.266},{"lon":67.5,"lat":-35.7,"a":1.00262,"b":5.267},{"lon":-67.5,"lat":-35.7,"a":1.00262,"b":5.267},{"lon":78.8,"lat":-35.7,"a":1.00264,"b":5.264},{"lon":-78.8,"lat":-35.7,"a":1.00264,"b":5.264},{"lon":90,"lat":-35.7,"a":1.00265,"b":5.265},{"lon":-90,"lat":-35.7,"a":1.00265,"b":5.265},{"lon":101.3,"lat":-35.7,"a":1.00267,"b":5.266},{"lon":-101.3,"lat":-35.7,"a":1.00267,"b":5.266},{"lon":112.5,"lat":-35.7,"a":1.00269,"b":5.269},{"lon":-112.5,"lat":-35.7,"a":1.00269,"b":5.269},{"lon":123.8,"lat":-35.7,"a":1.00271,"b":5.273},{"lon":-123.8,"lat":-35.7,"a":1.00271,"b":5.273},{"lon":135,"lat":-35.7,"a":1.00274,"b":5.278},{"lon":-135,"lat":-35.7,"a":1.00274,"b":5.278},{"lon":146.3,"lat":-35.7,"a":1.00275,"b":5.284},{"lon":-146.3,"lat":-35.7,"a":1.00275,"b":5.284},{"lon":157.5,"lat":-35.7,"a":1.00277,"b":5.289},{"lon":-157.5,"lat":-35.7,"a":1.00277,"b":5.289},{"lon":168.8,"lat":-35.7,"a":1.00278,"b":5.296},{"lon":-168.8,"lat":-35.7,"a":1.00278,"b":5.296},{"lon":180,"lat":-35.7,"a":1.00279,"b":5.306},{"lon":-180,"lat":-35.7,"a":1.00279,"b":5.306},
{"lon":5.6,"lat":-41.8,"a":1.00256,"b":5.269},{"lon":-5.6,"lat":-41.8,"a":1.00256,"b":5.269},{"lon":16.9,"lat":-41.8,"a":1.00257,"b":5.272},{"lon":-16.9,"lat":-41.8,"a":1.00257,"b":5.272},{"lon":28.1,"lat":-41.8,"a":1.00258,"b":5.268},{"lon":-28.1,"lat":-41.8,"a":1.00258,"b":5.268},{"lon":39.4,"lat":-41.8,"a":1.00259,"b":5.271},{"lon":-39.4,"lat":-41.8,"a":1.00259,"b":5.271},{"lon":50.6,"lat":-41.8,"a":1.0026,"b":5.267},{"lon":-50.6,"lat":-41.8,"a":1.0026,"b":5.267},{"lon":61.9,"lat":-41.8,"a":1.00262,"b":5.268},{"lon":-61.9,"lat":-41.8,"a":1.00262,"b":5.268},{"lon":73.1,"lat":-41.8,"a":1.00263,"b":5.265},{"lon":-73.1,"lat":-41.8,"a":1.00263,"b":5.265},{"lon":84.4,"lat":-41.8,"a":1.00264,"b":5.265},{"lon":-84.4,"lat":-41.8,"a":1.00264,"b":5.265},{"lon":95.6,"lat":-41.8,"a":1.00266,"b":5.265},{"lon":-95.6,"lat":-41.8,"a":1.00266,"b":5.265},{"lon":106.9,"lat":-41.8,"a":1.00267,"b":5.268},{"lon":-106.9,"lat":-41.8,"a":1.00267,"b":5.268},{"lon":118.1,"lat":-41.8,"a":1.00269,"b":5.269},{"lon":-118.1,"lat":-41.8,"a":1.00269,"b":5.269},{"lon":129.4,"lat":-41.8,"a":1.00272,"b":5.274},{"lon":-129.4,"lat":-41.8,"a":1.00272,"b":5.274},{"lon":140.6,"lat":-41.8,"a":1.00274,"b":5.278},{"lon":-140.6,"lat":-41.8,"a":1.00274,"b":5.278},{"lon":151.9,"lat":-41.8,"a":1.00275,"b":5.285},{"lon":-151.9,"lat":-41.8,"a":1.00275,"b":5.285},{"lon":163.1,"lat":-41.8,"a":1.00277,"b":5.288},{"lon":-163.1,"lat":-41.8,"a":1.00277,"b":5.288},{"lon":174.4,"lat":-41.8,"a":1.00278,"b":5.297},{"lon":-174.4,"lat":-41.8,"a":1.00278,"b":5.297},
{"lon":6.4,"lat":-48.1,"a":1.00258,"b":5.269},{"lon":-6.4,"lat":-48.1,"a":1.00258,"b":5.269},{"lon":19.3,"lat":-48.1,"a":1.00258,"b":5.27},{"lon":-19.3,"lat":-48.1,"a":1.00258,"b":5.27},{"lon":32.1,"lat":-48.1,"a":1.00259,"b":5.268},{"lon":-32.1,"lat":-48.1,"a":1.00259,"b":5.268},{"lon":45,"lat":-48.1,"a":1.0026,"b":5.269},{"lon":-45,"lat":-48.1,"a":1.0026,"b":5.269},{"lon":57.9,"lat":-48.1,"a":1.00262,"b":5.266},{"lon":-57.9,"lat":-48.1,"a":1.00262,"b":5.266},{"lon":70.7,"lat":-48.1,"a":1.00263,"b":5.266},{"lon":-70.7,"lat":-48.1,"a":1.00263,"b":5.266},{"lon":83.6,"lat":-48.1,"a":1.00264,"b":5.265},{"lon":-83.6,"lat":-48.1,"a":1.00264,"b":5.265},{"lon":96.4,"lat":-48.1,"a":1.00266,"b":5.265},{"lon":-96.4,"lat":-48.1,"a":1.00266,"b":5.265},{"lon":109.3,"lat":-48.1,"a":1.00267,"b":5.268},{"lon":-109.3,"lat":-48.1,"a":1.00267,"b":5.268},{"lon":122.1,"lat":-48.1,"a":1.00269,"b":5.268},{"lon":-122.1,"lat":-48.1,"a":1.00269,"b":5.268},{"lon":135,"lat":-48.1,"a":1.00272,"b":5.273},{"lon":-135,"lat":-48.1,"a":1.00272,"b":5.273},{"lon":147.9,"lat":-48.1,"a":1.00273,"b":5.275},{"lon":-147.9,"lat":-48.1,"a":1.00273,"b":5.275},{"lon":160.7,"lat":-48.1,"a":1.00275,"b":5.283},{"lon":-160.7,"lat":-48.1,"a":1.00275,"b":5.283},{"lon":173.6,"lat":-48.1,"a":1.00275,"b":5.289},{"lon":-173.6,"lat":-48.1,"a":1.00275,"b":5.289},
{"lon":7.5,"lat":-54.3,"a":1.00259,"b":5.27},{"lon":-7.5,"lat":-54.3,"a":1.00259,"b":5.27},{"lon":22.5,"lat":-54.3,"a":1.0026,"b":5.269},{"lon":-22.5,"lat":-54.3,"a":1.0026,"b":5.269},{"lon":37.5,"lat":-54.3,"a":1.00261,"b":5.269},{"lon":-37.5,"lat":-54.3,"a":1.00261,"b":5.269},{"lon":52.5,"lat":-54.3,"a":1.00262,"b":5.267},{"lon":-52.5,"lat":-54.3,"a":1.00262,"b":5.267},{"lon":67.5,"lat":-54.3,"a":1.00263,"b":5.267},{"lon":-67.5,"lat":-54.3,"a":1.00263,"b":5.267},{"lon":82.5,"lat":-54.3,"a":1.00264,"b":5.266},{"lon":-82.5,"lat":-54.3,"a":1.00264,"b":5.266},{"lon":97.5,"lat":-54.3,"a":1.00266,"b":5.266},{"lon":-97.5,"lat":-54.3,"a":1.00266,"b":5.266},{"lon":112.5,"lat":-54.3,"a":1.00267,"b":5.268},{"lon":-112.5,"lat":-54.3,"a":1.00267,"b":5.268},{"lon":127.5,"lat":-54.3,"a":1.00269,"b":5.271},{"lon":-127.5,"lat":-54.3,"a":1.00269,"b":5.271},{"lon":142.5,"lat":-54.3,"a":1.00271,"b":5.274},{"lon":-142.5,"lat":-54.3,"a":1.00271,"b":5.274},{"lon":157.5,"lat":-54.3,"a":1.00273,"b":5.279},{"lon":-157.5,"lat":-54.3,"a":1.00273,"b":5.279},{"lon":172.5,"lat":-54.3,"a":1.00274,"b":5.286},{"lon":-172.5,"lat":-54.3,"a":1.00274,"b":5.286},
{"lon":9,"lat":-60.4,"a":1.0026,"b":5.271},{"lon":-9,"lat":-60.4,"a":1.0026,"b":5.271},{"lon":27,"lat":-60.4,"a":1.00261,"b":5.269},{"lon":-27,"lat":-60.4,"a":1.00261,"b":5.269},{"lon":45,"lat":-60.4,"a":1.00262,"b":5.268},{"lon":-45,"lat":-60.4,"a":1.00262,"b":5.268},{"lon":63,"lat":-60.4,"a":1.00263,"b":5.268},{"lon":-63,"lat":-60.4,"a":1.00263,"b":5.268},{"lon":81,"lat":-60.4,"a":1.00264,"b":5.266},{"lon":-81,"lat":-60.4,"a":1.00264,"b":5.266},{"lon":99,"lat":-60.4,"a":1.00266,"b":5.268},{"lon":-99,"lat":-60.4,"a":1.00266,"b":5.268},{"lon":117,"lat":-60.4,"a":1.00267,"b":5.269},{"lon":-117,"lat":-60.4,"a":1.00267,"b":5.269},{"lon":135,"lat":-60.4,"a":1.00269,"b":5.272},{"lon":-135,"lat":-60.4,"a":1.00269,"b":5.272},{"lon":153,"lat":-60.4,"a":1.00271,"b":5.277},{"lon":-153,"lat":-60.4,"a":1.00271,"b":5.277},{"lon":171,"lat":-60.4,"a":1.00272,"b":5.283},{"lon":-171,"lat":-60.4,"a":1.00272,"b":5.283},
{"lon":11.3,"lat":-66.4,"a":1.00261,"b":5.271},{"lon":-11.3,"lat":-66.4,"a":1.00261,"b":5.271},{"lon":33.8,"lat":-66.4,"a":1.00262,"b":5.269},{"lon":-33.8,"lat":-66.4,"a":1.00262,"b":5.269},{"lon":56.3,"lat":-66.4,"a":1.00263,"b":5.268},{"lon":-56.3,"lat":-66.4,"a":1.00263,"b":5.268},{"lon":78.8,"lat":-66.4,"a":1.00264,"b":5.268},{"lon":-78.8,"lat":-66.4,"a":1.00264,"b":5.268},{"lon":101.3,"lat":-66.4,"a":1.00266,"b":5.268},{"lon":-101.3,"lat":-66.4,"a":1.00266,"b":5.268},{"lon":123.8,"lat":-66.4,"a":1.00267,"b":5.27},{"lon":-123.8,"lat":-66.4,"a":1.00267,"b":5.27},{"lon":146.3,"lat":-66.4,"a":1.00269,"b":5.273},{"lon":-146.3,"lat":-66.4,"a":1.00269,"b":5.273},{"lon":168.8,"lat":-66.4,"a":1.0027,"b":5.278},{"lon":-168.8,"lat":-66.4,"a":1.0027,"b":5.278},
{"lon":15,"lat":-72.4,"a":1.00263,"b":5.271},{"lon":-15,"lat":-72.4,"a":1.00263,"b":5.271},{"lon":45,"lat":-72.4,"a":1.00263,"b":5.269},{"lon":-45,"lat":-72.4,"a":1.00263,"b":5.269},{"lon":75,"lat":-72.4,"a":1.00264,"b":5.269},{"lon":-75,"lat":-72.4,"a":1.00264,"b":5.269},{"lon":105,"lat":-72.4,"a":1.00266,"b":5.269},{"lon":-105,"lat":-72.4,"a":1.00266,"b":5.269},{"lon":135,"lat":-72.4,"a":1.00267,"b":5.271},{"lon":-135,"lat":-72.4,"a":1.00267,"b":5.271},{"lon":165,"lat":-72.4,"a":1.00268,"b":5.274},{"lon":-165,"lat":-72.4,"a":1.00268,"b":5.274},
{"lon":22.5,"lat":-78.3,"a":1.00264,"b":5.271},{"lon":-22.5,"lat":-78.3,"a":1.00264,"b":5.271},{"lon":67.5,"lat":-78.3,"a":1.00264,"b":5.27},{"lon":-67.5,"lat":-78.3,"a":1.00264,"b":5.27},{"lon":112.5,"lat":-78.3,"a":1.00266,"b":5.27},{"lon":-112.5,"lat":-78.3,"a":1.00266,"b":5.27},{"lon":157.5,"lat":-78.3,"a":1.00267,"b":5.272},{"lon":-157.5,"lat":-78.3,"a":1.00267,"b":5.272},
{"lon":45,"lat":-84.2,"a":1.00264,"b":5.272},{"lon":-45,"lat":-84.2,"a":1.00264,"b":5.272},{"lon":135,"lat":-84.2,"a":1.00266,"b":5.271},{"lon":-135,"lat":-84.2,"a":1.00266,"b":5.271}
],"lonlab":[{"lon":135,"lat":0,"t":"135°"},{"lon":90,"lat":0,"t":"90°"},{"lon":45,"lat":0,"t":"45°"},{"lon":0,"lat":0,"t":"0°"},{"lon":315,"lat":0,"t":"315°"},{"lon":270,"lat":0,"t":"270°"},{"lon":225,"lat":0,"t":"225°"}]},
"hconcat":[
{"width":432,"height":292,"projection":{"type":"mollweide","reflectX":true,"scale":63.64,"translate":[223.3,125.3]},"layer":[
{"data":{"sphere":true},"mark":{"type":"geoshape","fill":"#f6b59b","stroke":null},"encoding":{}},
{"data":{"name":"pix"},"mark":{"type":"point","shape":"diamond","filled":true,"opacity":1,"size":300},"encoding":{"longitude":{"field":"lon","type":"quantitative"},"latitude":{"field":"lat","type":"quantitative"},"color":{"field":"a","type":"quantitative","scale":{"domain":[1.0024,1.00283],"range":["#dddcdc","#ead5c9","#f1ccb8","#f5c1a9","#f7ac8e","#f49a7b","#ef8a6c"]},"legend":null}}},
{"data":{"name":"pix"},"mark":{"type":"point","shape":"diamond","filled":true,"opacity":1,"size":160},"encoding":{"longitude":{"field":"lon","type":"quantitative"},"latitude":{"field":"lat","type":"quantitative"},"color":{"field":"a","type":"quantitative","scale":{"domain":[1.0024,1.00283],"range":["#dddcdc","#ead5c9","#f1ccb8","#f5c1a9","#f7ac8e","#f49a7b","#ef8a6c"]},"legend":{"orient":"none","legendX":115,"legendY":243,"direction":"horizontal","gradientLength":216,"gradientThickness":12,"gradientStrokeColor":"#000000","gradientStrokeWidth":0.8,"values":[1.002400001,1.002829999],"format":".6~f","labelFontSize":9.7,"labelColor":"#000","labelOffset":5,"title":"nᵥ,ₚᵢₓ/nᵥ,ₚᵢₓ,₀","titleFontSize":12,"titleFontStyle":"italic","titleFontWeight":"normal","titleOrient":"bottom","titleAnchor":"middle","titlePadding":-7,"titleColor":"#000"}}}},
{"data":{"values":[{"lon":0,"lat":0}]},"mark":{"type":"point","filled":true,"opacity":1,"fill":"white","stroke":null,"size":129600,"shape":"M-1.06,-0.56H1.06V0.56H-1.06ZM-1,0C-1,0.276,-0.552,0.5,0,0.5C0.552,0.5,1,0.276,1,0C1,-0.276,0.552,-0.5,0,-0.5C-0.552,-0.5,-1,-0.276,-1,0Z"},"encoding":{"longitude":{"field":"lon","type":"quantitative"},"latitude":{"field":"lat","type":"quantitative"}}},
{"data":{"graticule":{"step":[45,45],"stepMajor":[45,45],"extentMajor":[[-180,-90.01],[180,90.01]],"extentMinor":[[-180,-90],[180,90]]}},"mark":{"type":"geoshape","fill":null,"stroke":"#b0b0b0","strokeWidth":1},"encoding":{}},
{"data":{"sphere":true},"mark":{"type":"geoshape","fill":null,"stroke":"#000000","strokeWidth":0.8},"encoding":{}},
{"data":{"name":"lonlab"},"mark":{"type":"text","fontSize":12,"dy":-10,"color":"#000"},"encoding":{"longitude":{"field":"lon","type":"quantitative"},"latitude":{"field":"lat","type":"quantitative"},"text":{"field":"t"}}},
{"data":{"values":[{"lon":180,"lat":45,"t":"45°"}]},"mark":{"type":"text","fontSize":12,"align":"right","dx":-8,"dy":-6,"color":"#000"},"encoding":{"longitude":{"field":"lon","type":"quantitative"},"latitude":{"field":"lat","type":"quantitative"},"text":{"field":"t"}}},
{"data":{"values":[{"lon":180,"lat":0,"t":"0°"}]},"mark":{"type":"text","fontSize":12,"align":"right","dx":-8,"color":"#000"},"encoding":{"longitude":{"field":"lon","type":"quantitative"},"latitude":{"field":"lat","type":"quantitative"},"text":{"field":"t"}}},
{"data":{"values":[{"lon":180,"lat":-45,"t":"-45°"}]},"mark":{"type":"text","fontSize":12,"align":"right","dx":-8,"dy":5,"color":"#000"},"encoding":{"longitude":{"field":"lon","type":"quantitative"},"latitude":{"field":"lat","type":"quantitative"},"text":{"field":"t"}}},
{"data":{"values":[{"lon":0,"lat":-90,"t":"longitude"}]},"mark":{"type":"text","fontSize":12,"dy":10,"color":"#000"},"encoding":{"longitude":{"field":"lon","type":"quantitative"},"latitude":{"field":"lat","type":"quantitative"},"text":{"field":"t"}}},
{"data":{"values":[{"lon":180,"lat":0,"t":"latitude"}]},"mark":{"type":"text","fontSize":12,"angle":270,"dy":-31,"color":"#000"},"encoding":{"longitude":{"field":"lon","type":"quantitative"},"latitude":{"field":"lat","type":"quantitative"},"text":{"field":"t"}}}
],"resolve":{"scale":{"color":"independent"}}},
{"width":411,"height":292,"projection":{"type":"mollweide","reflectX":true,"scale":63.64,"translate":[223.3,125.3]},"layer":[
{"data":{"sphere":true},"mark":{"type":"geoshape","fill":"#f39b7d","stroke":null},"encoding":{}},
{"data":{"name":"pix"},"mark":{"type":"point","shape":"diamond","filled":true,"opacity":1,"size":300},"encoding":{"longitude":{"field":"lon","type":"quantitative"},"latitude":{"field":"lat","type":"quantitative"},"color":{"field":"b","type":"quantitative","scale":{"domain":[5.2622,5.32282],"range":["#f6a385","#f49a7b","#ec7f63","#e26952","#d24b40","#c32e31","#b40426"]},"legend":null}}},
{"data":{"name":"pix"},"mark":{"type":"point","shape":"diamond","filled":true,"opacity":1,"size":160},"encoding":{"longitude":{"field":"lon","type":"quantitative"},"latitude":{"field":"lat","type":"quantitative"},"color":{"field":"b","type":"quantitative","scale":{"domain":[5.2622,5.32282],"range":["#f6a385","#f49a7b","#ec7f63","#e26952","#d24b40","#c32e31","#b40426"]},"legend":{"orient":"none","legendX":115,"legendY":243,"direction":"horizontal","gradientLength":216,"gradientThickness":12,"gradientStrokeColor":"#000000","gradientStrokeWidth":0.8,"values":[5.262201,5.322819],"format":".5~f","labelFontSize":9.7,"labelColor":"#000","labelOffset":5,"title":"nᵥ,ₚᵢₓ/nᵥ,ₚᵢₓ,₀","titleFontSize":12,"titleFontStyle":"italic","titleFontWeight":"normal","titleOrient":"bottom","titleAnchor":"middle","titlePadding":-7,"titleColor":"#000"}}}},
{"data":{"values":[{"lon":0,"lat":0}]},"mark":{"type":"point","filled":true,"opacity":1,"fill":"white","stroke":null,"size":129600,"shape":"M-1.06,-0.56H1.06V0.56H-1.06ZM-1,0C-1,0.276,-0.552,0.5,0,0.5C0.552,0.5,1,0.276,1,0C1,-0.276,0.552,-0.5,0,-0.5C-0.552,-0.5,-1,-0.276,-1,0Z"},"encoding":{"longitude":{"field":"lon","type":"quantitative"},"latitude":{"field":"lat","type":"quantitative"}}},
{"data":{"graticule":{"step":[45,45],"stepMajor":[45,45],"extentMajor":[[-180,-90.01],[180,90.01]],"extentMinor":[[-180,-90],[180,90]]}},"mark":{"type":"geoshape","fill":null,"stroke":"#b0b0b0","strokeWidth":1},"encoding":{}},
{"data":{"sphere":true},"mark":{"type":"geoshape","fill":null,"stroke":"#000000","strokeWidth":0.8},"encoding":{}},
{"data":{"name":"lonlab"},"mark":{"type":"text","fontSize":12,"dy":-10,"color":"#000"},"encoding":{"longitude":{"field":"lon","type":"quantitative"},"latitude":{"field":"lat","type":"quantitative"},"text":{"field":"t"}}},
{"data":{"values":[{"lon":180,"lat":45,"t":"45°"}]},"mark":{"type":"text","fontSize":12,"align":"right","dx":-8,"dy":-6,"color":"#000"},"encoding":{"longitude":{"field":"lon","type":"quantitative"},"latitude":{"field":"lat","type":"quantitative"},"text":{"field":"t"}}},
{"data":{"values":[{"lon":180,"lat":0,"t":"0°"}]},"mark":{"type":"text","fontSize":12,"align":"right","dx":-8,"color":"#000"},"encoding":{"longitude":{"field":"lon","type":"quantitative"},"latitude":{"field":"lat","type":"quantitative"},"text":{"field":"t"}}},
{"data":{"values":[{"lon":180,"lat":-45,"t":"-45°"}]},"mark":{"type":"text","fontSize":12,"align":"right","dx":-8,"dy":5,"color":"#000"},"encoding":{"longitude":{"field":"lon","type":"quantitative"},"latitude":{"field":"lat","type":"quantitative"},"text":{"field":"t"}}},
{"data":{"values":[{"lon":0,"lat":-90,"t":"longitude"}]},"mark":{"type":"text","fontSize":12,"dy":10,"color":"#000"},"encoding":{"longitude":{"field":"lon","type":"quantitative"},"latitude":{"field":"lat","type":"quantitative"},"text":{"field":"t"}}},
{"data":{"values":[{"lon":180,"lat":0,"t":"latitude"}]},"mark":{"type":"text","fontSize":12,"angle":270,"dy":-31,"color":"#000"},"encoding":{"longitude":{"field":"lon","type":"quantitative"},"latitude":{"field":"lat","type":"quantitative"},"text":{"field":"t"}}}
],"resolve":{"scale":{"color":"independent"}}}
],"resolve":{"scale":{"color":"independent"}}}
